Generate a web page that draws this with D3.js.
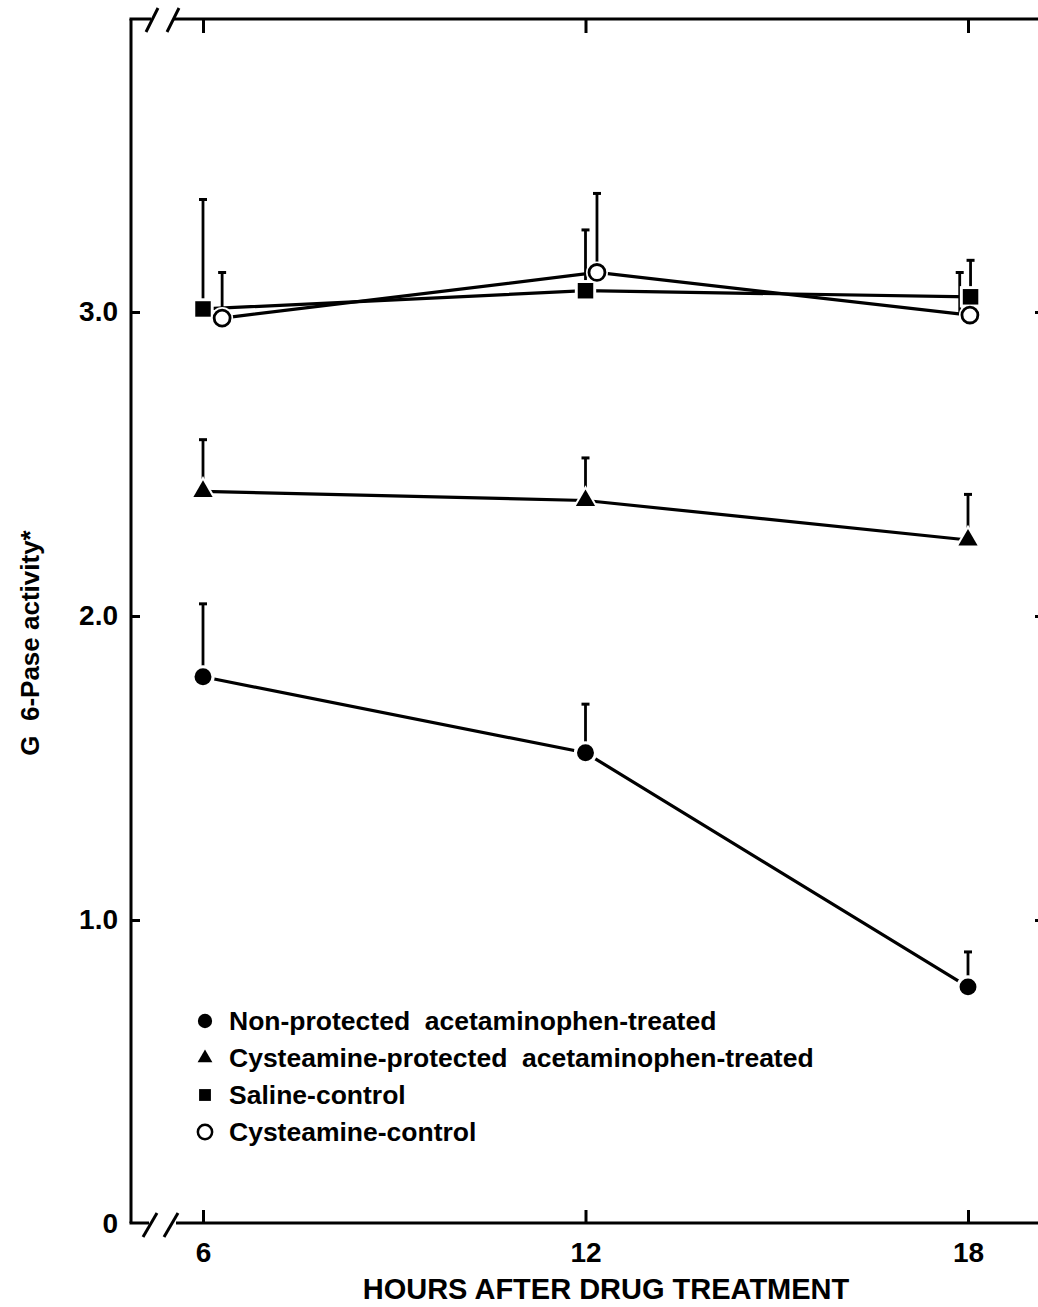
<!DOCTYPE html>
<html>
<head>
  <meta charset="UTF-8">
  <style>
    body { margin: 0; background: #fff; }
    svg { display: block; }
    text { font-family: "Liberation Sans", Arial, sans-serif; font-weight: bold; fill: #000; }
  </style>
</head>
<body>
  <svg></svg>
<script src="https://d3js.org/d3.v7.min.js"></script>

<script>
let width = 1038,
    height = 1307;

// hours after drug treatment
let hours = [6, 12, 18];

// Non-protected acetaminophen-treated (filled circle)
let nonProtected = [1.80, 1.55, 0.78];
let nonProtectedErr = [0.24, 0.16, 0.115];

// Cysteamine-protected acetaminophen-treated (filled triangle)
let cystProtected = [2.41, 2.38, 2.25];
let cystProtectedErr = [0.17, 0.14, 0.15];

// Saline-control (filled square)
let saline = [3.01, 3.07, 3.05];
let salineErr = [0.36, 0.20, 0.12];
let salineX = [6, 12, 18.04];

// Cysteamine-control (open circle), drawn a little to the right in the figure
let cystControl = [2.98, 3.13, 2.99];
let cystControlErr = [0.15, 0.26, 0.14];
let cystControlX = [6.3, 12.18, 18.03];
let cystControlErrX = [6.3, 12.18, 17.87];

let yTicks = [0, 1, 2, 3];
let yTickLabels = ["0", "1.0", "2.0", "3.0"];

let legendLabels = [
  "Non-protected  acetaminophen-treated",
  "Cysteamine-protected  acetaminophen-treated",
  "Saline-control",
  "Cysteamine-control"
];

let svg = d3.select("svg")
    .attr("width", width)
    .attr("height", height);

let plotLeft = 131, plotTop = 19, plotBottom = 1223, plotRight = 1044;

let x = d3.scaleLinear().domain([6, 18]).range([203, 968]);
let y = d3.scaleLinear().domain([0, 3]).range([plotBottom + 1, plotBottom + 1 - 3 * 304]);

let series = [
  {shape: "circle", fill: "#000", vals: nonProtected, err: nonProtectedErr, xs: hours, ex: hours},
  {shape: "triangle", fill: "#000", vals: cystProtected, err: cystProtectedErr, xs: hours, ex: hours},
  {shape: "square", fill: "#000", vals: saline, err: salineErr, xs: salineX, ex: salineX},
  {shape: "open", fill: "#fff", vals: cystControl, err: cystControlErr, xs: cystControlX, ex: cystControlErrX}
];

let symbolType = {
  circle: d3.symbolCircle,
  triangle: d3.symbolTriangle,
  square: d3.symbolSquare,
  open: d3.symbolCircle
};
let symbolSize = {circle: 225, triangle: 160, square: 240, open: 200};

// frame with breaks on the x axis
let frame = svg.append("g")
  .attr("stroke", "#000")
  .attr("stroke-width", 3)
  .attr("fill", "none");

frame.append("path")
  .attr("d", "M" + plotLeft + "," + plotTop + "V" + plotBottom);
frame.append("path")
  .attr("d", "M" + (plotLeft - 1.5) + "," + plotTop + "H151 M174," + plotTop + "H" + plotRight);
frame.append("path")
  .attr("d", "M" + (plotLeft - 1.5) + "," + plotBottom + "H149 M176," + plotBottom + "H" + plotRight);
frame.append("path")
  .attr("d", "M" + plotRight + "," + plotTop + "V" + plotBottom);

// break slashes
[[146, 158], [167, 179]].forEach(s => {
  frame.append("line").attr("x1", s[0]).attr("y1", plotTop + 13).attr("x2", s[1]).attr("y2", plotTop - 11);
  frame.append("line").attr("x1", s[0] - 3).attr("y1", plotBottom + 14).attr("x2", s[1] - 1).attr("y2", plotBottom - 10);
});

// axes
let yAxis = svg.append("g")
  .attr("transform", "translate(" + plotLeft + ",0)")
  .call(d3.axisLeft(y).tickValues(yTicks).tickSize(-9).tickPadding(13)
    .tickFormat((d, i) => yTickLabels[i]));

let yAxisRight = svg.append("g")
  .attr("transform", "translate(" + plotRight + ",0)")
  .call(d3.axisRight(y).tickValues(yTicks.slice(1)).tickSize(-9).tickFormat(""));

let xAxis = svg.append("g")
  .attr("transform", "translate(0," + plotBottom + ")")
  .call(d3.axisBottom(x).tickValues(hours).tickSize(-13).tickPadding(19).tickFormat(d3.format("d")));

let xAxisTop = svg.append("g")
  .attr("transform", "translate(0," + plotTop + ")")
  .call(d3.axisTop(x).tickValues(hours).tickSize(-14).tickFormat(""));

svg.selectAll(".domain").remove();
svg.selectAll(".tick line").attr("stroke", "#000").attr("stroke-width", 3);
svg.selectAll(".tick text")
  .style("font-size", "28px")
  .style("font-family", "'Liberation Sans', Arial, sans-serif")
  .style("font-weight", "bold");
yAxis.selectAll(".tick").filter(d => d === 0).select("line").remove();

// axis titles
svg.append("text")
  .attr("x", 606)
  .attr("y", 1299)
  .attr("text-anchor", "middle")
  .style("font-size", "29px")
  .text("HOURS AFTER DRUG TREATMENT");

svg.append("text")
  .attr("transform", "translate(39,643) rotate(-90)")
  .attr("text-anchor", "middle")
  .style("font-size", "26px")
  .style("white-space", "pre")
  .text("G  6-Pase activity*");

// lines
let line = d3.line()
  .x(d => x(d[0]))
  .y(d => y(d[1]));

svg.append("g")
  .selectAll("path")
  .data(series)
  .enter()
  .append("path")
    .attr("fill", "none")
    .attr("stroke", "#000")
    .attr("stroke-width", 3.2)
    .attr("d", s => line(s.vals.map((v, i) => [s.xs[i], v])));

// error bars (upper half only)
let bars = [];
series.forEach(s => {
  s.vals.forEach((v, i) => bars.push({x: s.ex[i], lo: v, hi: v + s.err[i]}));
});

let errG = svg.append("g")
  .selectAll("g")
  .data(bars)
  .enter()
  .append("g");

errG.append("line")
  .attr("x1", d => x(d.x)).attr("x2", d => x(d.x))
  .attr("y1", d => y(d.lo)).attr("y2", d => y(d.hi))
  .attr("stroke", "#000").attr("stroke-width", 2.8);

errG.append("line")
  .attr("x1", d => x(d.x) - 4).attr("x2", d => x(d.x) + 4)
  .attr("y1", d => y(d.hi)).attr("y2", d => y(d.hi))
  .attr("stroke", "#000").attr("stroke-width", 3);

// markers with a thin white halo so lines stop short of them
let points = [];
series.forEach(s => {
  s.vals.forEach((v, i) => points.push({shape: s.shape, fill: s.fill, x: s.xs[i], v: v}));
});

let sym = d3.symbol();

svg.append("g")
  .selectAll("path")
  .data(points)
  .enter()
  .append("path")
    .attr("transform", d => "translate(" + x(d.x) + "," + y(d.v) + ")")
    .attr("d", d => sym.type(symbolType[d.shape]).size(symbolSize[d.shape] * 1.9)())
    .attr("fill", "#fff");

svg.append("g")
  .selectAll("path")
  .data(points)
  .enter()
  .append("path")
    .attr("transform", d => "translate(" + x(d.x) + "," + y(d.v) + ")")
    .attr("d", d => sym.type(symbolType[d.shape]).size(symbolSize[d.shape])())
    .attr("fill", d => d.fill)
    .attr("stroke", "#000")
    .attr("stroke-width", d => d.shape === "open" ? 2.8 : 0);

// legend
let legend = svg.append("g")
  .selectAll("g")
  .data(series)
  .enter()
  .append("g")
    .attr("transform", (d, i) => "translate(205," + (1021 + i * 37) + ")");

legend.append("path")
  .attr("d", d => sym.type(symbolType[d.shape]).size(d.shape === "triangle" ? 95 : d.shape === "square" ? 140 : 160)())
  .attr("fill", d => d.fill)
  .attr("stroke", "#000")
  .attr("stroke-width", d => d.shape === "open" ? 2.5 : 0);

legend.append("text")
  .attr("x", 24)
  .attr("y", 9)
  .style("font-size", "26.5px")
  .style("white-space", "pre")
  .text((d, i) => legendLabels[i]);
</script>
</body>
</html>
